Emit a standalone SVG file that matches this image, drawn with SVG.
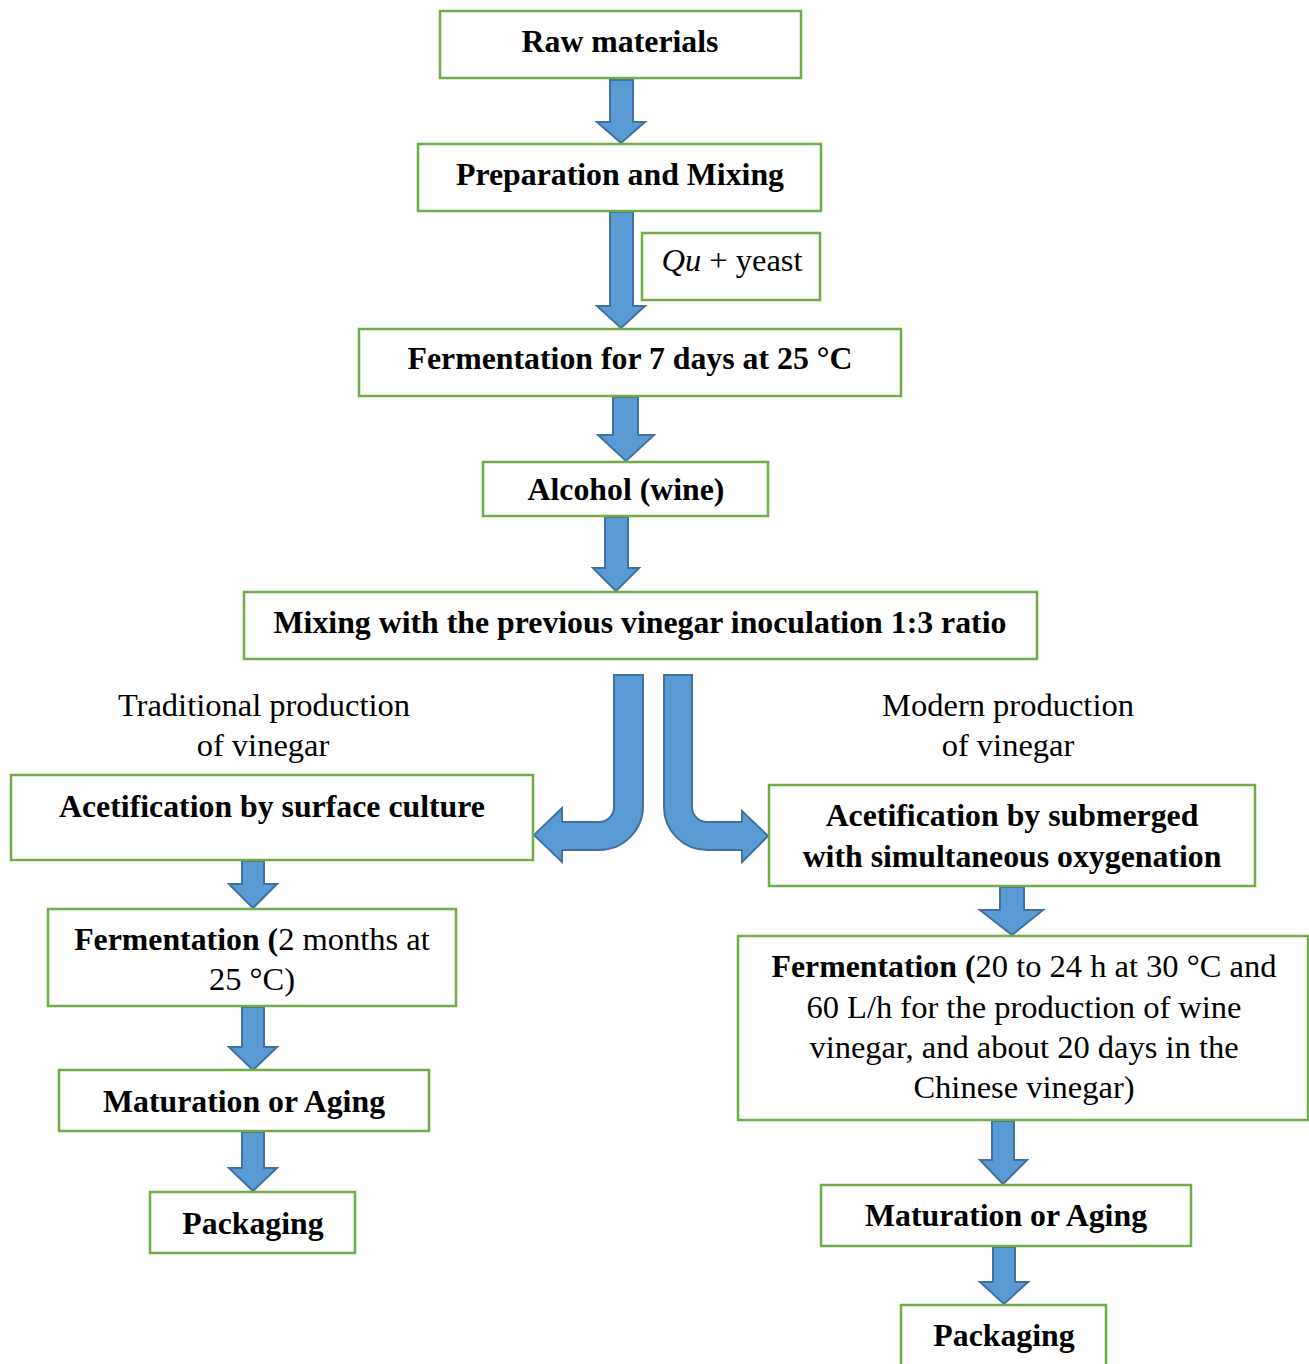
<svg xmlns="http://www.w3.org/2000/svg" width="1309" height="1364" viewBox="0 0 1309 1364">
<style>
.box{fill:#fff;stroke:#70AD47;stroke-width:2.5}
.arr{fill:#5B9BD5;stroke:#41719C;stroke-width:2;stroke-linejoin:miter}
text{font-family:"Liberation Serif","Times New Roman",serif;font-size:32.5px;fill:#000;text-anchor:middle}
.b{font-weight:bold;font-size:31.8px}
</style>
<rect width="1309" height="1364" fill="#fff"/>
<g id="connectors">
<polygon class="arr" points="610,80 633,80 633,122 645,122 621,143 597,122 610,122"/>
<polygon class="arr" points="610,212 633,212 633,306 645,306 621,328 597,306 610,306"/>
<polygon class="arr" points="613,397 638,397 638,435 654,435 626,461 598,435 613,435"/>
<polygon class="arr" points="605,517 628,517 628,568 639,568 616,591 593,568 605,568"/>
<path class="arr" d="M614,675 L643,675 L643,806 A44,44 0 0 1 599,850 L562,850 L562,862 L534,835 L562,808 L562,822 L599,822 A15,15 0 0 0 614,807 Z"/>
<path class="arr" d="M664,675 L692,675 L692,807 A15,15 0 0 0 707,822 L742,822 L742,811 L768,836 L742,862 L742,850 L707,850 A43,43 0 0 1 664,807 Z"/>
<polygon class="arr" points="242,861 264,861 264,884 277,884 253,908 229,884 242,884"/>
<polygon class="arr" points="242,1007 264,1007 264,1047 277,1047 253,1070 229,1047 242,1047"/>
<polygon class="arr" points="242,1132 264,1132 264,1168 277,1168 253,1191 229,1168 242,1168"/>
<polygon class="arr" points="1000,887 1024,887 1024,910 1043,910 1012,935 980,910 1000,910"/>
<polygon class="arr" points="992,1121 1014,1121 1014,1160 1027,1160 1003,1184 980,1160 992,1160"/>
<polygon class="arr" points="993,1247 1015,1247 1015,1282 1028,1282 1004,1304 980,1282 993,1282"/>
</g>
<g id="raw"><rect class="box" x="440" y="11" width="361" height="67"/><text class="b" x="620" y="52">Raw materials</text></g>
<g id="prep"><rect class="box" x="418" y="144" width="403" height="67"/><text class="b" x="620" y="185">Preparation and Mixing</text></g>
<g id="qu"><rect class="box" x="642" y="233" width="178" height="67"/><text x="732" y="271"><tspan font-style="italic">Qu</tspan> + yeast</text></g>
<g id="ferm7"><rect class="box" x="359" y="329" width="542" height="67"/><text class="b" x="630" y="369">Fermentation for 7 days at 25 °C</text></g>
<g id="alcohol"><rect class="box" x="483" y="462" width="285" height="54"/><text class="b" x="626" y="500">Alcohol (wine)</text></g>
<g id="mixing"><rect class="box" x="244" y="592" width="793" height="67"/><text class="b" x="640" y="633">Mixing with the previous vinegar inoculation 1:3 ratio</text></g>
<g id="label-trad"><text x="264" y="716">Traditional production</text><text x="263" y="756">of vinegar</text></g>
<g id="label-modern"><text x="1008" y="716">Modern production</text><text x="1008" y="756">of vinegar</text></g>
<g id="surface"><rect class="box" x="11" y="775" width="522" height="85"/><text class="b" x="272" y="817">Acetification by surface culture</text></g>
<g id="ferm-left"><rect class="box" x="48" y="909" width="408" height="97"/><text x="252" y="950"><tspan class="b">Fermentation (</tspan>2 months at</text><text x="252" y="990">25 °C)</text></g>
<g id="mat-left"><rect class="box" x="59" y="1070" width="370" height="61"/><text class="b" x="244" y="1112">Maturation or Aging</text></g>
<g id="pack-left"><rect class="box" x="150" y="1192" width="205" height="61"/><text class="b" x="253" y="1234">Packaging</text></g>
<g id="submerged"><rect class="box" x="769" y="785" width="486" height="101"/><text class="b" x="1012" y="826">Acetification by submerged</text><text class="b" x="1012" y="867">with simultaneous oxygenation</text></g>
<g id="ferm-right"><rect class="box" x="738" y="936" width="570" height="184"/><text x="1024" y="977"><tspan class="b">Fermentation (</tspan>20 to 24 h at 30 °C and</text><text x="1024" y="1018">60 L/h for the production of wine</text><text x="1024" y="1058">vinegar, and about 20 days in the</text><text x="1024" y="1098">Chinese vinegar)</text></g>
<g id="mat-right"><rect class="box" x="821" y="1185" width="370" height="61"/><text class="b" x="1006" y="1226">Maturation or Aging</text></g>
<g id="pack-right"><rect class="box" x="901" y="1305" width="205" height="65"/><text class="b" x="1004" y="1346">Packaging</text></g>
</svg>
